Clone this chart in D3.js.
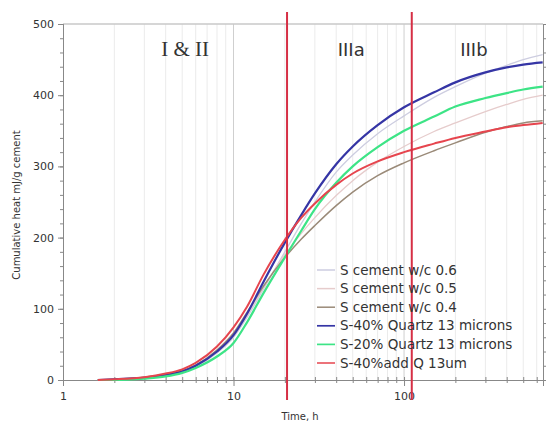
<!DOCTYPE html>
<html><head><meta charset="utf-8">
<script src="https://cdn.jsdelivr.net/npm/d3@7"></script>
<style>body{margin:0;background:#fff}svg{display:block}</style>
</head><body>
<svg id="c" width="548" height="427"></svg>
<script>
const times = [1.6,2,3,4,5,6,8,10,12,15,20,25,30,40,50,70,100,150,200,300,400,500,650];
const wc06  = [0,1,3,7,12,19,38,60,88,128,180,220,250,292,316,346,371,397,412,431,442,450,457];
const wc05  = [0,1,3,7,12,20,40,62,91,130,176,206,228,259,280,306,328,349,361,377,387,394,400];
const wc04  = [0,1,4,8,13,21,42,66,95,132,172,198,217,245,264,287,305,322,333,348,356,361,364];
const q40   = [0,1,3,7,12,20,40,63,93,138,193,232,262,303,328,358,383,404,418,432,439,443,446];
const q20   = [0,0,2,5,10,17,33,52,81,122,172,210,240,277,300,327,350,370,384,396,403,408,412];
const add40 = [0,1,4,9,15,24,47,74,103,148,197,228,248,274,290,307,320,332,340,349,355,358,361];
const seriesNames = ["S cement w/c 0.6","S cement w/c 0.5","S cement w/c 0.4","S-40% Quartz 13 microns","S-20% Quartz 13 microns","S-40%add Q 13um"];
const seriesValues = [wc06, wc05, wc04, q40, q20, add40];
const seriesColors = ["#cdcde0","#e6cccc","#9a8a78","#3535a5","#3de486","#e6454e"];
const seriesWidths = [1.3,1.3,1.5,2.2,2.2,2];
const phaseBounds = [20.6, 111];
const phaseLabels = [{t:5.2,text:"I & II",serif:true},{t:49,text:"IIIa"},{t:257,text:"IIIb"}];
const xTicks = [1,10,100];
const yTicks = [0,100,200,300,400,500];

const svg = d3.select("#c");
const x = d3.scaleLog().domain([1,653]).range([63,543]);
const y = d3.scaleLinear().domain([0,500]).range([380,24]);

// vertical grid
const minor = [];
[1,10,100].forEach(d=>{for(let k=2;k<=9;k++){const v=d*k; if(v<=653) minor.push(v);}});
svg.append("g").selectAll("line").data(minor).join("line")
  .attr("x1",d=>x(d)).attr("x2",d=>x(d)).attr("y1",y(500)).attr("y2",y(0))
  .attr("stroke","#ebebeb").attr("stroke-width",1);
svg.append("g").selectAll("line").data([10,100]).join("line")
  .attr("x1",d=>x(d)).attr("x2",d=>x(d)).attr("y1",y(500)).attr("y2",y(0))
  .attr("stroke","#cfcfcf").attr("stroke-width",1);
// top line
svg.append("line").attr("x1",x(1)).attr("x2",x(653)).attr("y1",y(500)).attr("y2",y(500))
  .attr("stroke","#c8c8c8").attr("stroke-width",1.5);

// axes
const axL = svg.append("g").attr("transform",`translate(${x(1)},0)`)
  .call(d3.axisLeft(y).tickValues(yTicks).tickSize(5).tickPadding(4));
axL.append("g").call(d3.axisLeft(y).tickValues(d3.range(0,501,20)).tickSize(3).tickFormat(""));
const axR = svg.append("g").attr("transform",`translate(${x(653)},0)`)
  .call(d3.axisRight(y).tickValues(d3.range(0,501,20)).tickSize(3).tickFormat(""));
const axB = svg.append("g").attr("transform",`translate(0,${y(0)})`)
  .call(d3.axisBottom(x).tickValues(xTicks).tickFormat(d3.format("d")).tickSize(6).tickPadding(6));
axB.append("g").call(d3.axisBottom(x).tickValues(minor).tickSize(3).tickFormat(""));
[axL,axR,axB].forEach(a=>{
  a.selectAll("path,line").attr("stroke","#888");
  a.selectAll("text").attr("font-family","DejaVu Sans, sans-serif").attr("font-size",11).attr("fill","#333");
});
axB.selectAll(".tick line").attr("y1",-3);

// lines
const line = d3.line().x((d,i)=>x(times[i])).y(d=>y(d)).curve(d3.curveMonotoneX);
seriesValues.forEach((vals,k)=>{
  svg.append("path").datum(vals).attr("d",line).attr("fill","none")
    .attr("stroke",seriesColors[k]).attr("stroke-width",seriesWidths[k]);
});

// phase boundaries
svg.append("g").selectAll("line").data(phaseBounds).join("line")
  .attr("x1",d=>x(d)).attr("x2",d=>x(d)).attr("y1",12).attr("y2",400)
  .attr("stroke","#d62f45").attr("stroke-width",2);

// phase labels
svg.append("g").selectAll("text").data(phaseLabels).join("text")
  .attr("x",d=>x(d.t)).attr("y",56).attr("text-anchor","middle")
  .attr("font-family",d=>d.serif?"Liberation Serif, serif":"DejaVu Sans, sans-serif")
  .attr("font-size",d=>d.serif?21:18).attr("fill","#333").text(d=>d.text);

// axis titles
svg.append("text").attr("x",300).attr("y",420).attr("text-anchor","middle")
  .attr("font-family","DejaVu Sans, sans-serif").attr("font-size",10).attr("fill","#333").text("Time, h");
svg.append("text").attr("transform","translate(20,205) rotate(-90)").attr("text-anchor","middle")
  .attr("font-family","DejaVu Sans, sans-serif").attr("font-size",10).attr("fill","#333").text("Cumulative heat mJ/g cement");

// legend
const lg = svg.append("g").attr("transform","translate(317,270)");
seriesNames.forEach((n,k)=>{
  const g = lg.append("g").attr("transform",`translate(0,${k*18.6})`);
  g.append("line").attr("x1",0).attr("x2",18).attr("y1",0).attr("y2",0)
    .attr("stroke",seriesColors[k]).attr("stroke-width",Math.max(1.5,seriesWidths[k]-0.5));
  g.append("text").attr("x",23).attr("y",4.5).attr("font-family","DejaVu Sans, sans-serif")
    .attr("font-size",13.5).attr("fill","#333").text(n);
});
</script>
</body></html>
